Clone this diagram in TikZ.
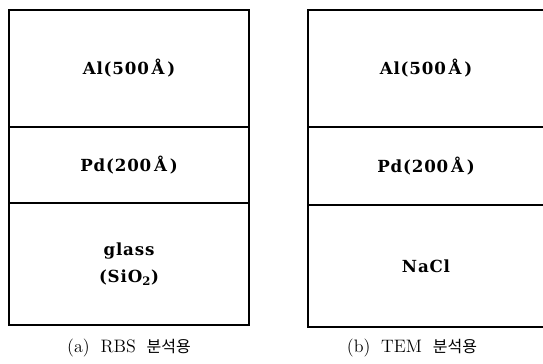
\documentclass[tikz,border=0pt]{standalone}
\usepackage{fontspec}
\newfontfamily\krfont{Noto Sans CJK KR}
\newfontfamily\labelfont[LetterSpace=5]{DejaVu Serif}
\usetikzlibrary{positioning}

\begin{document}
\begin{tikzpicture}[x=0.75pt, y=-0.75pt, node distance=0pt,
    layer/.style={draw, rectangle, line width=0.9pt, inner sep=0pt, outer sep=0pt, align=center, font=\fontsize{12.5}{20.5}\labelfont\bfseries},
    caption/.style={font=\fontsize{13.5}{15}\selectfont}]
    \useasboundingbox (0,0) rectangle (543,364);
    % (a) RBS sample
    \node[layer, anchor=north west, minimum width=180pt, minimum height=87.75pt] (alA) at (9,10) {Al(500\,Å\,)};
    \node[layer, below=of alA, minimum width=180pt, minimum height=57pt] (pdA) {Pd(200\,Å\,)};
    \node[layer, below=of pdA, minimum width=180pt, minimum height=91.5pt] (glassA) {glass\\(SiO\textsubscript{2})};
    \node[caption] (capA) at (129,348) {(a)\hspace{0.6em}RBS\hspace{0.6em}{\krfont\fontsize{12}{14}\selectfont 분석용}};
    % (b) TEM sample
    \node[layer, anchor=north west, minimum width=177pt, minimum height=87.75pt] (alB) at (308,10) {Al(500\,Å\,)};
    \node[layer, below=of alB, minimum width=177pt, minimum height=58.5pt] (pdB) {Pd(200\,Å\,)};
    \node[layer, below=of pdB, minimum width=177pt, minimum height=91.5pt] (naclB) {NaCl};
    \node[caption] (capB) at (412,348) {(b)\hspace{0.6em}TEM\hspace{0.6em}{\krfont\fontsize{12}{14}\selectfont 분석용}};
\end{tikzpicture}
\end{document}
